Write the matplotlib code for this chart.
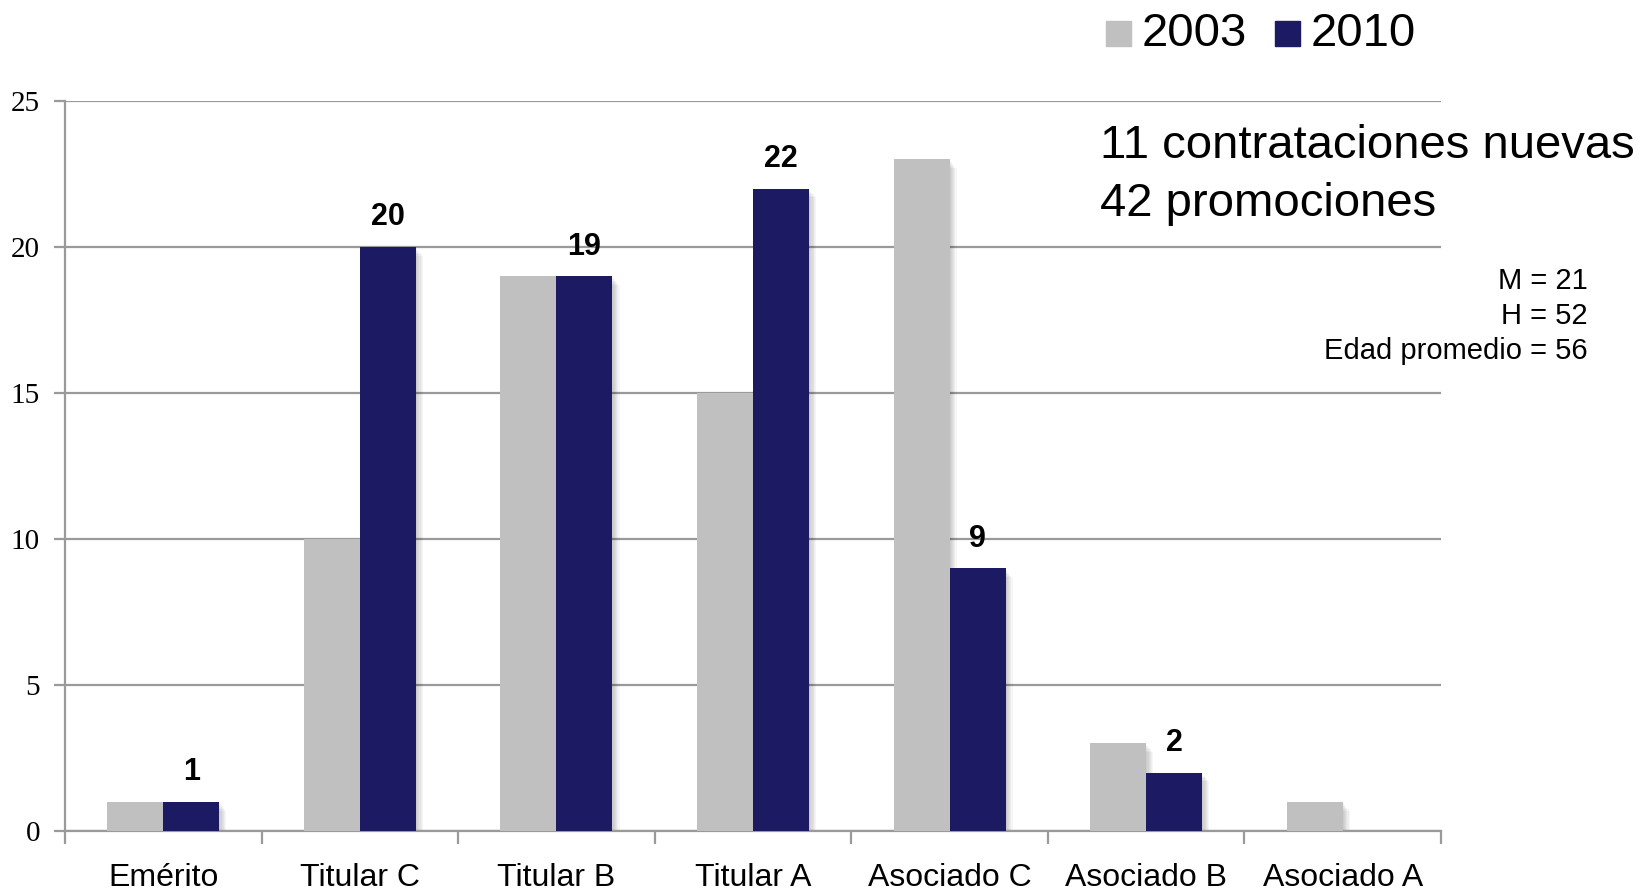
import numpy as np
import matplotlib.pyplot as plt
from matplotlib.patches import Rectangle

categories = ['Emérito', 'Titular C', 'Titular B', 'Titular A',
              'Asociado C', 'Asociado B', 'Asociado A']
values_2003 = [1, 10, 19, 15, 23, 3, 1]
values_2010 = [1, 20, 19, 22, 9, 2, 0]
y_ticks = [0, 5, 10, 15, 20, 25]

gray = '#c0c0c0'
navy = '#1b1a63'
grid_c = '#9a9a9a'
sans = ['Liberation Sans', 'DejaVu Sans']
serif = ['Liberation Serif', 'DejaVu Serif']

W, H = 1649, 893
fig = plt.figure(figsize=(W / 100, H / 100), dpi=100)
ax = fig.add_axes([65 / W, 1 - 831 / H, (1441 - 65) / W, (831 - 101) / H])

x = np.arange(len(categories))
bw = 0.285

# soft shadow to the right of bars
for k in range(1, 7):
    for off, vals in ((-bw / 2, values_2003), (bw / 2, values_2010)):
        ax.bar(x + off + k * 0.006, vals, bw, bottom=-0.05 * k,
               color='black', alpha=0.035, linewidth=0, zorder=1)

ax.bar(x - bw / 2, values_2003, bw, color=gray, linewidth=0, zorder=3)
ax.bar(x + bw / 2, values_2010, bw, color=navy, linewidth=0, zorder=3)

for xi, v in zip(x, values_2010):
    if v > 0:
        ax.text(xi + bw / 2, v + 0.5, str(v), ha='center', va='bottom',
                fontsize=22, fontweight='bold', family=sans, zorder=5)

ax.set_xlim(-0.5, len(categories) - 0.5)
ax.set_ylim(0, 25)
ax.set_yticks(y_ticks)
ax.set_yticklabels([str(t) for t in y_ticks], family=serif, fontsize=21)
ax.yaxis.grid(True, color=grid_c, linewidth=1.6, zorder=0)
ax.set_axisbelow(True)

ax.set_xticks(x)
ax.set_xticklabels(categories, family=sans, fontsize=23)
ax.set_xticks(np.arange(len(categories) + 1) - 0.5, minor=True)
ax.tick_params(axis='x', which='major', length=0, pad=23)
ax.tick_params(axis='x', which='minor', length=9, width=1.6, color=grid_c)
ax.tick_params(axis='y', length=8, width=1.6, color=grid_c, pad=10)

for s in ['top', 'right']:
    ax.spines[s].set_visible(False)
for s in ['left', 'bottom']:
    ax.spines[s].set_color(grid_c)
    ax.spines[s].set_linewidth(1.6)

# legend drawn at top right
for (x0, lbl, col) in ((1106, '2003', gray), (1275, '2010', navy)):
    fig.patches.append(Rectangle((x0 / W, 1 - 46 / H), 25 / W, 25 / H,
                                 transform=fig.transFigure, color=col))
    fig.text((x0 + 36) / W, 1 - 34 / H, lbl, fontsize=34, family=sans,
             va='center', ha='left')

fig.text(1100 / W, 1 - 158 / H, '11 contrataciones nuevas', fontsize=34,
         family=sans, ha='left', va='baseline')
fig.text(1100 / W, 1 - 216 / H, '42 promociones', fontsize=34,
         family=sans, ha='left', va='baseline')

for yy, t in ((281, 'M = 21'), (316, 'H = 52'), (351, 'Edad promedio = 56')):
    fig.text(1588 / W, 1 - yy / H, t, fontsize=21, family=sans,
             ha='right', va='center')

fig.savefig('out.png', dpi=100)
